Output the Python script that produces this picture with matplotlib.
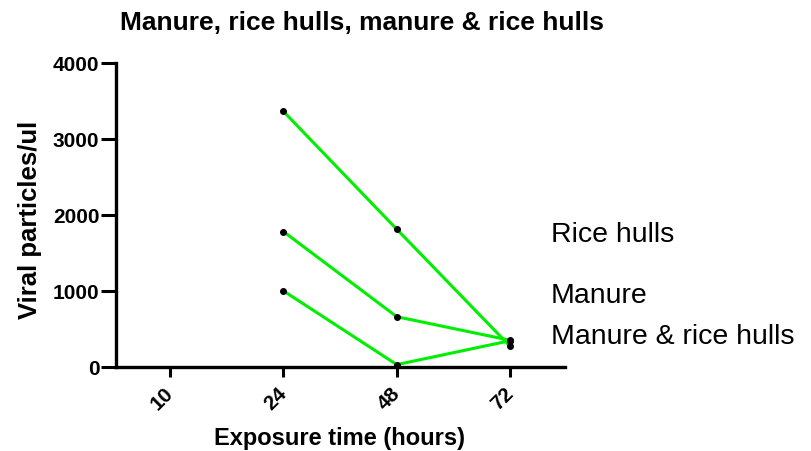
import matplotlib
matplotlib.use('Agg')
import matplotlib.pyplot as plt
import matplotlib.transforms as mtransforms
import numpy as np

plt.rcParams['font.family'] = ['Liberation Sans', 'DejaVu Sans']

# data
hours = ['10', '24', '48', '72']
rice_hulls = [np.nan, 3360, 1810, 270]
manure = [np.nan, 1780, 660, 350]
manure_rice = [np.nan, 1000, 30, 345]
series_names = ['Rice hulls', 'Manure', 'Manure & rice hulls']
label_y = [1660, 850, 320]  # baselines of the text labels, in data units

fig = plt.figure(figsize=(8.12, 4.52), dpi=100)
ax = fig.add_axes([0.143, 0.186, 0.553, 0.673])

x = np.arange(len(hours))
for vals in [rice_hulls, manure, manure_rice]:
    ax.plot(x, vals, color='#00ee00', lw=2.2, zorder=2)
    ax.plot(x, vals, 'o', color='black', ms=4, zorder=3)

ax.set_xlim(-0.476, 3.485)
ax.set_ylim(0, 4000)
ax.set_xticks(x)
ax.set_xticklabels(hours, rotation=45, ha='right', fontweight='bold', fontsize=15)
ax.set_yticks([0, 1000, 2000, 3000, 4000])
ax.set_yticklabels(['0', '1000', '2000', '3000', '4000'], fontweight='bold', fontsize=15)
ax.tick_params(axis='x', width=2.2, length=7.5, direction='out', pad=4)
ax.tick_params(axis='y', width=2.2, length=11, direction='out', pad=1)
# nudge the rotated labels a bit right, as in the original
shift = mtransforms.ScaledTranslation(5 / 72, 0, fig.dpi_scale_trans)
for lbl in ax.get_xticklabels():
    lbl.set_transform(lbl.get_transform() + shift)
for s in ['top', 'right']:
    ax.spines[s].set_visible(False)
for s in ['left', 'bottom']:
    ax.spines[s].set_linewidth(2.4)

fig.text(340 / 812, 1 - 439 / 452, 'Exposure time (hours)', fontweight='bold',
         fontsize=17, ha='center', va='center')
fig.text(30 / 812, 1 - 220 / 452, 'Viral particles/ul', fontweight='bold',
         fontsize=18.5, ha='center', va='center', rotation=90)

for name, yv in zip(series_names, label_y):
    ax.text(3.36, yv, name, fontsize=20.5, va='baseline', ha='left', clip_on=False)

fig.text(0.148, 0.95, 'Manure, rice hulls, manure & rice hulls', fontweight='bold',
         fontsize=19, ha='left', va='center')

fig.savefig('out.png', dpi=100)
